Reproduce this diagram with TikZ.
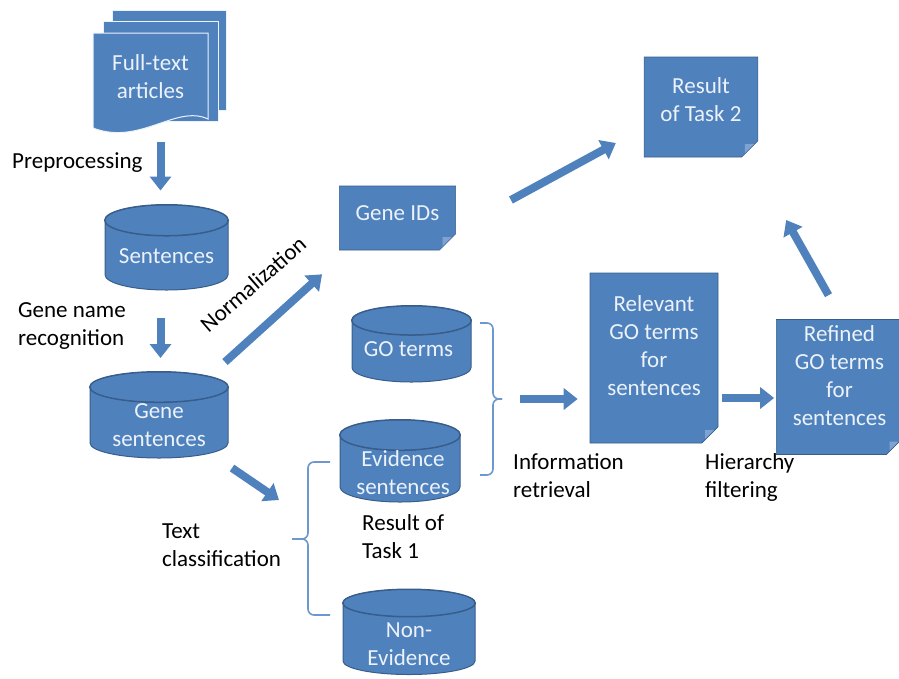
\documentclass[tikz,border=0pt]{standalone}
\usepackage{fontspec}
\setmainfont{Carlito}
\usetikzlibrary{shapes.geometric,shapes.misc,arrows.meta,calc}
\definecolor{boxblue}{RGB}{79,129,189}
\definecolor{boxline}{RGB}{56,93,138}
\definecolor{foldblue}{RGB}{125,163,212}
\definecolor{capwhite}{RGB}{236,242,250}
\definecolor{bracecol}{RGB}{108,152,207}

\begin{document}
\begin{tikzpicture}[x=1pt, y=-1pt, font=\fontsize{23}{28}\selectfont,
    cyl/.style = {cylinder, shape border rotate=90, aspect=0.3, anchor=shape center, draw=boxline, line width=1pt, fill=boxblue},
    cyltxt/.style = {text=capwhite, align=center, inner sep=0pt},
    doc/.style = {chamfered rectangle, chamfered rectangle corners=south east, chamfered rectangle xsep=13pt, draw=boxline, line width=0.6pt, fill=boxblue, text=capwhite, align=center,
        path picture={\fill[foldblue] ([xshift=-13pt]path picture bounding box.south east) -- ([yshift=13pt]path picture bounding box.south east) -- ([shift={(-13pt,13pt)}]path picture bounding box.south east) -- cycle;}},
    page/.style = {draw=capwhite, line width=1pt, fill=boxblue},
    blk/.style = {draw=boxblue, line width=8pt, -{Triangle[width=21pt,length=14pt]}},
    brc/.style = {draw=bracecol, line width=1.6pt, rounded corners=6pt},
    lbl/.style = {anchor=west, align=left, inner sep=0pt, text=black}]
\useasboundingbox (0,0) rectangle (899,678);

% stack of articles
\node[page, minimum width=114pt, minimum height=100pt] (art3) at (169,60) {};
\node[page, minimum width=115pt, minimum height=100pt] (art2) at (160.5,71) {};
\filldraw[page] (93,33) -- (208,33) -- (208,119) .. controls (176,104) and (140,146) .. (93,128) -- cycle;
\node[text=capwhite, align=center, minimum width=115pt, minimum height=88pt] (art1) at (150.5,77) {Full-text\\articles};

% databases
\node[cyl, minimum width=123pt, minimum height=85pt] (sent) at (166.5,247.5) {\phantom{Sentences}};
\node[cyl, minimum width=138pt, minimum height=86pt] (gsent) at (159,415) {\phantom{sentences}};
\node[cyl, minimum width=119pt, minimum height=76pt] (go) at (411.5,344) {\phantom{GO terms}};
\node[cyl, minimum width=120pt, minimum height=82pt] (evid) at (400,461) {\phantom{sentences}};
\node[cyl, minimum width=132pt, minimum height=85pt] (nonev) at (409,632) {\phantom{Evidence}};
\foreach \c in {sent,gsent,go,evid,nonev}
    \draw[boxline, line width=1pt] let \p1=(\c.before top), \p2=(\c.after top), \p3=(\c.top) in
        ($(\p1)!0.5!(\p2)$) ellipse ({abs(\x2-\x1)/2} and {abs(\y3-(\y1+\y2)/2)});
\node[cyltxt] (sentT) at ($(sent.shape center)+(0,8.5)$) {Sentences};
\node[cyltxt] (gsentT) at ($(gsent.shape center)+(0,10)$) {Gene\\sentences};
\node[cyltxt] (goT) at ($(go.shape center)+(-3,5)$) {GO terms};
\node[cyltxt] (evidT) at ($(evid.shape center)+(3,12)$) {Evidence\\sentences};
\node[cyltxt] (nonevT) at ($(nonev.shape center)+(0,12)$) {Non-\\Evidence};

% documents
\node[doc, minimum width=109pt, minimum height=64pt, text depth=10pt] (geneids) at (397.5,218) {Gene IDs};
\node[doc, minimum width=102pt, minimum height=100pt, text depth=14pt] (task2) at (701,107) {Result\\of Task 2};
\node[doc, minimum width=128pt, minimum height=170pt, text depth=24pt] (relevant) at (654,358) {Relevant\\GO terms\\for\\sentences};
\node[doc, minimum width=119pt, minimum height=130pt, text depth=22pt] (refined) at (839.5,387) {Refined\\GO terms\\for\\sentences};

% braces
\coordinate (bRtip) at (502,399);
\draw[brc] (480,323) -- (493,323) -- (493,399) -- (bRtip);
\draw[brc] (bRtip) -- (493,399) -- (493,475) -- (480,475);
\coordinate (bLtip) at (292,539);
\draw[brc] (330,462) -- (308,462) -- (308,539) -- (bLtip);
\draw[brc] (bLtip) -- (308,539) -- (308,615) -- (330,615);

% labels
\node[lbl] (lprep) at (12,163) {Preprocessing};
\node[lbl] (lgnr) at (18,326) {Gene name\\recognition};
\node[rotate=41, text=black] (lnorm) at (253,284) {Normalization};
\node[lbl] (ltc) at (162,545) {Text\\classification};
\node[lbl] (lres1) at (362,537) {Result of\\Task 1};
\node[lbl] (lir) at (513,476) {Information\\retrieval};
\node[lbl] (lhf) at (705,477) {Hierarchy\\filtering};

% arrows
\draw[blk] ($(art1.south)+(10,21)$) -- ($(sent.shape center)+(-6,-57)$);
\draw[blk] ($(sent.shape center)+(-6,70)$) -- ($(gsent.shape center)+(1.5,-57)$);
\draw[blk] ($(gsent.shape center)+(66,-53)$) -- ($(geneids.south west)+(-17,24)$);
\draw[blk] ($(geneids.east)+(55,-18)$) -- ($(task2.west)+(-28,36)$);
\draw[blk] ($(gsent.shape center)+(73,53)$) -- ($(evid.shape center)+(-121,39)$);
\draw[blk, shorten <=18pt, shorten >=12pt] (bRtip) -- (bRtip -| relevant.west);
\draw[blk] ($(relevant.east)+(4,40)$) -- ($(refined.west)+(-2,11)$);
\draw[blk] ($(refined.north)+(-11,-24)$) -- ($(task2.east)+(28,113)$);

\end{tikzpicture}
\end{document}
